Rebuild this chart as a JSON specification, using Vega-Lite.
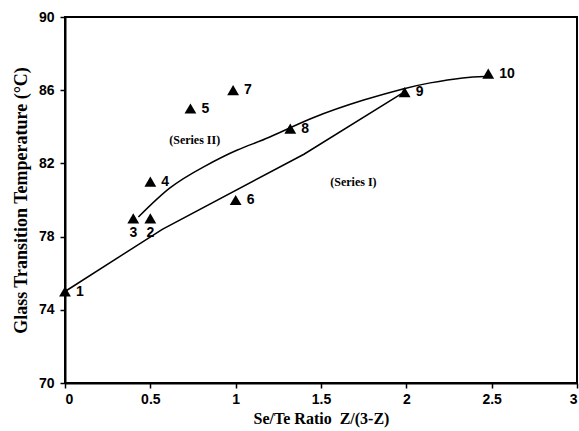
{
  "$schema": "https://vega.github.io/schema/vega-lite/v6.json",
  "autosize": "none",
  "padding": {"left": 65, "top": 17, "right": 2, "bottom": 48},
  "width": 512,
  "height": 366,
  "background": "white",
  "config": {
    "view": {"stroke": "black", "strokeWidth": 2},
    "axis": {
      "grid": false,
      "domainColor": "black",
      "domainWidth": 2,
      "tickColor": "black",
      "tickWidth": 1.5,
      "labelFont": "Liberation Sans",
      "labelFontWeight": "bold",
      "labelFontSize": 14,
      "labelColor": "black",
      "titleFont": "Liberation Serif",
      "titleFontWeight": "bold",
      "titleColor": "black"
    }
  },
  "datasets": {
    "pts": [
      {"x": 0, "y": 75, "label": "1"},
      {"x": 0.5, "y": 79, "label": "2"},
      {"x": 0.4, "y": 79, "label": "3"},
      {"x": 0.5, "y": 81, "label": "4"},
      {"x": 0.735, "y": 85, "label": "5"},
      {"x": 1.0, "y": 80, "label": "6"},
      {"x": 0.985, "y": 86, "label": "7"},
      {"x": 1.32, "y": 83.9, "label": "8"},
      {"x": 1.99, "y": 85.9, "label": "9"},
      {"x": 2.48, "y": 86.9, "label": "10"}
    ],
    "series1": [
      {"x": 0, "y": 75},
      {"x": 0.57, "y": 78.4},
      {"x": 1.4, "y": 82.5},
      {"x": 1.97, "y": 85.8}
    ],
    "series2": [
      {"x": 0.43, "y": 79.07},
      {"x": 0.615, "y": 80.66},
      {"x": 0.81, "y": 81.8},
      {"x": 1.01, "y": 82.73},
      {"x": 1.2, "y": 83.44},
      {"x": 1.45, "y": 84.48},
      {"x": 1.75, "y": 85.46},
      {"x": 1.98, "y": 86.07},
      {"x": 2.14, "y": 86.4},
      {"x": 2.33, "y": 86.67},
      {"x": 2.46, "y": 86.75}
    ],
    "notes": [
      {"x": 0.76, "y": 83.3, "text": "(Series II)"},
      {"x": 1.69, "y": 81.0, "text": "(Series I)"}
    ]
  },
  "layer": [
    {
      "data": {"name": "series1"},
      "mark": {"type": "line", "color": "black", "strokeWidth": 1.5},
      "encoding": {
        "x": {"field": "x", "type": "quantitative", "scale": {"domain": [0, 3], "nice": false},
          "axis": {"values": [0, 0.5, 1, 1.5, 2, 2.5, 3], "format": "~g", "title": "Se/Te Ratio\u00a0\u00a0Z/(3-Z)", "titleFontSize": 16, "tickSize": 5, "labelPadding": 4, "titlePadding": 4}},
        "y": {"field": "y", "type": "quantitative", "scale": {"domain": [70, 90], "nice": false, "zero": false},
          "axis": {"values": [70, 72, 74, 76, 78, 80, 82, 84, 86, 88, 90], "labelExpr": "datum.value % 4 == 2 ? datum.label : ''", "title": "Glass Transition Temperature (°C)", "titleFontSize": 18, "tickSize": 5, "labelPadding": 6, "titlePadding": 8}}
      }
    },
    {
      "data": {"name": "series2"},
      "mark": {"type": "line", "color": "black", "strokeWidth": 1.5, "interpolate": "natural"},
      "encoding": {
        "x": {"field": "x", "type": "quantitative"},
        "y": {"field": "y", "type": "quantitative"}
      }
    },
    {
      "data": {"name": "pts"},
      "mark": {"type": "point", "shape": "triangle-up", "filled": true, "color": "black", "opacity": 1, "size": 140},
      "encoding": {
        "x": {"field": "x", "type": "quantitative"},
        "y": {"field": "y", "type": "quantitative"}
      }
    },
    {
      "data": {"name": "pts"},
      "transform": [{"filter": {"not": {"field": "label", "oneOf": ["2", "3"]}}}],
      "mark": {"type": "text", "align": "left", "baseline": "middle", "dx": 11, "dy": 0, "font": "Liberation Sans", "fontWeight": "bold", "fontSize": 14, "color": "black"},
      "encoding": {
        "x": {"field": "x", "type": "quantitative"},
        "y": {"field": "y", "type": "quantitative"},
        "text": {"field": "label"}
      }
    },
    {
      "data": {"name": "pts"},
      "transform": [{"filter": {"field": "label", "oneOf": ["2", "3"]}}],
      "mark": {"type": "text", "align": "center", "baseline": "middle", "dy": 15, "font": "Liberation Sans", "fontWeight": "bold", "fontSize": 14, "color": "black"},
      "encoding": {
        "x": {"field": "x", "type": "quantitative"},
        "y": {"field": "y", "type": "quantitative"},
        "text": {"field": "label"}
      }
    },
    {
      "data": {"name": "notes"},
      "mark": {"type": "text", "align": "center", "baseline": "middle", "font": "Liberation Serif", "fontWeight": "bold", "fontSize": 12, "color": "black"},
      "encoding": {
        "x": {"field": "x", "type": "quantitative"},
        "y": {"field": "y", "type": "quantitative"},
        "text": {"field": "text"}
      }
    }
  ]
}
